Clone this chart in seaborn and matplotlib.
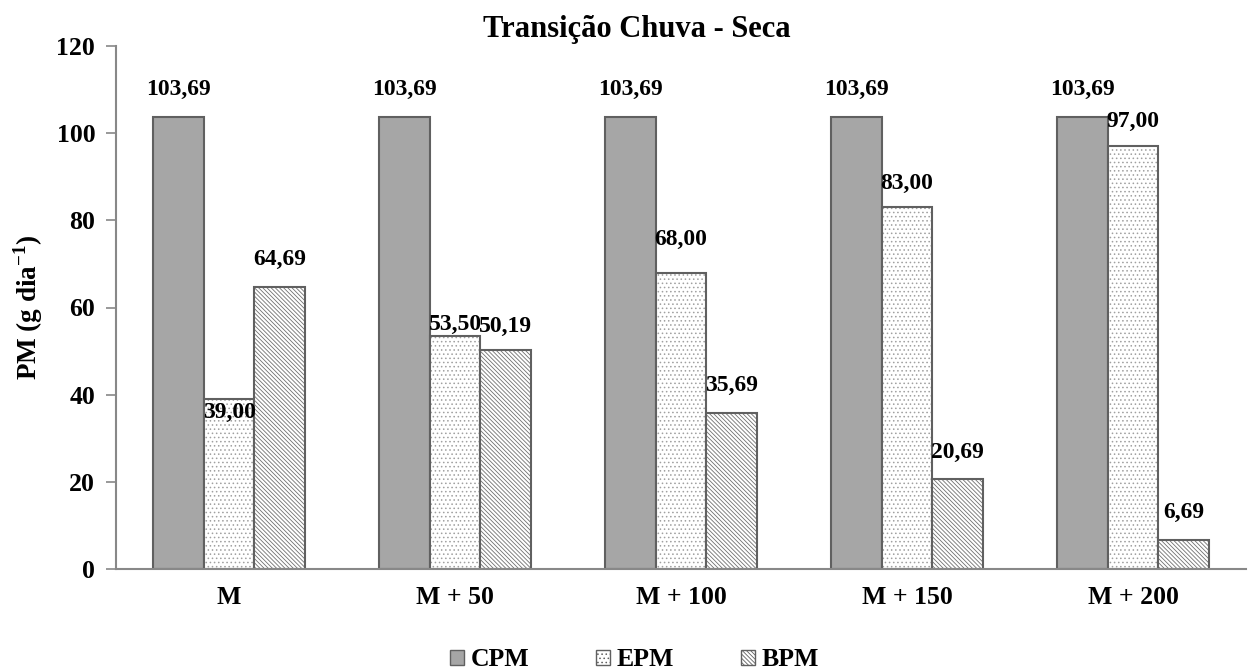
import matplotlib
matplotlib.use("Agg")
import matplotlib.pyplot as plt
import seaborn as sns
import pandas as pd
import numpy as np
from matplotlib.patches import Patch

categories = ["M", "M + 50", "M + 100", "M + 150", "M + 200"]
series = ["CPM", "EPM", "BPM"]
cpm = [103.69, 103.69, 103.69, 103.69, 103.69]
epm = [39.00, 53.50, 68.00, 83.00, 97.00]
bpm = [64.69, 50.19, 35.69, 20.69, 6.69]
yticks = [0, 20, 40, 60, 80, 100, 120]

df = pd.DataFrame({
    "cat": categories * 3,
    "serie": [s for s in series for _ in categories],
    "val": cpm + epm + bpm,
})

sns.set_theme(style="white")
plt.rcParams['font.family'] = ['Liberation Serif', 'DejaVu Serif']
plt.rcParams['font.weight'] = 'bold'
plt.rcParams['text.color'] = 'black'
plt.rcParams['axes.labelcolor'] = 'black'
plt.rcParams['xtick.color'] = 'black'
plt.rcParams['ytick.color'] = 'black'
plt.rcParams['hatch.linewidth'] = 0.6
plt.rcParams['mathtext.fontset'] = 'custom'
plt.rcParams['mathtext.rm'] = 'Liberation Serif:bold'
plt.rcParams['mathtext.bf'] = 'Liberation Serif:bold'

fig = plt.figure(figsize=(12.56, 6.71), dpi=100)
ax = fig.add_axes([116/1256, 1-569/671, 1130/1256, 523/671])

palette = {"CPM": "#a6a6a6", "EPM": "#ffffff", "BPM": "#ffffff"}
sns.barplot(data=df, x="cat", y="val", hue="serie", palette=palette,
            width=0.675, ax=ax, legend=False, saturation=1)

hatches = {"CPM": "", "EPM": "....", "BPM": "\\\\\\\\\\\\\\\\"}
hatch_colors = {"CPM": "#595959", "EPM": "#a0a0a0", "BPM": "#707070"}
# label offsets in points
offsets = {"CPM": [20, 20, 20, 20, 20],
           "EPM": [-10, 8, 24, 17, 18],
           "BPM": [20, 17, 20, 19, 20]}

for container, s in zip(ax.containers, series):
    for i, bar in enumerate(container):
        bar.set_edgecolor("#606060")
        bar.set_linewidth(1.5)
        if hatches[s]:
            bar.set_hatch(hatches[s])
            bar._hatch_color = matplotlib.colors.to_rgba(hatch_colors[s])
        h = bar.get_height()
        ax.annotate(f"{h:.2f}".replace(".", ","),
                    (bar.get_x() + bar.get_width() / 2, h),
                    xytext=(0, offsets[s][i]), textcoords="offset points",
                    ha="center", va="center", fontsize=17, fontweight="bold",
                    color="black")

ax.set_ylim(0, 120)
ax.set_xlim(-0.5, 4.5)
ax.set_yticks(yticks)
ax.set_yticklabels([str(t) for t in yticks], fontsize=18.5, fontweight="bold")
ax.set_xticks(range(len(categories)))
ax.set_xticklabels(categories, fontsize=18.5, fontweight="bold")
ax.tick_params(axis="x", length=0, pad=12)
ax.set_xticks(np.arange(-0.5, 5, 1), minor=True)
ax.tick_params(axis="x", which="minor", length=7, width=1.2, color="#888888", direction="out")
ax.tick_params(axis="y", length=7, width=1.2, color="#888888", direction="out", left=True, pad=8)
for sp in ["top", "right"]:
    ax.spines[sp].set_visible(False)
for sp in ["left", "bottom"]:
    ax.spines[sp].set_color("#888888")
    ax.spines[sp].set_linewidth(1.5)

ax.set_xlabel("")
ax.set_ylabel("PM (g dia$^{\\mathbf{-1}}$)", fontsize=19.5, fontweight="bold", labelpad=8)
ax.set_title("Transição Chuva - Seca", fontsize=22, fontweight="bold", pad=6.5, x=0.461)

handles = []
for s in series:
    p = Patch(facecolor=palette[s], edgecolor="#606060", hatch=hatches[s], label=s)
    handles.append(p)
leg = fig.legend(handles=handles, loc="lower center", ncol=3, frameon=False,
                 bbox_to_anchor=(0.505, -0.035), prop={"size": 18.5, "weight": "bold"},
                 handlelength=0.55, handleheight=0.55, handletextpad=0.25, columnspacing=2.6)

fig.savefig("out.png", dpi=100)
